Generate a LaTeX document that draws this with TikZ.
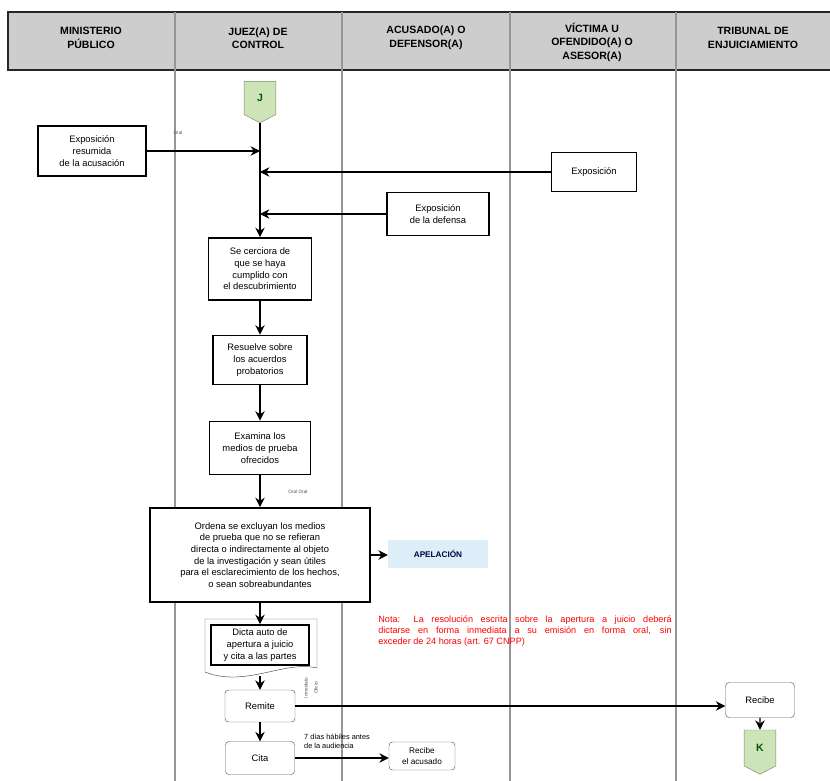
\documentclass[tikz,border=0pt]{standalone}
\usepackage{fontspec}
\setmainfont{Liberation Sans}
\usetikzlibrary{arrows.meta,shapes.symbols}
\definecolor{lanegray}{RGB}{150,150,150}
\definecolor{hdrgray}{RGB}{205,205,205}
\definecolor{connfill}{RGB}{205,228,185}
\definecolor{connline}{RGB}{120,140,110}
\definecolor{apfill}{RGB}{222,238,248}
\begin{document}
\begin{tikzpicture}[x=0.03cm, y=-0.03cm,
    every node/.style={font=\fontsize{8}{10}\selectfont, align=center},
    proc/.style={draw, line width=1.6pt, fill=white, inner sep=1pt},
    soft/.style={draw=gray!70!black, rounded corners=3pt, fill=white, inner sep=1pt},
    offpage/.style={shape=signal, signal to=south, signal from=nowhere, signal pointer angle=125,
        draw=connline, fill=connfill, minimum width=0.95cm, minimum height=1.1cm,
        font=\bfseries\small, text=green!35!black},
    flow/.style={-{Stealth[length=8pt, width=8pt]}, line width=1pt},
    tiny/.style={font=\fontsize{4}{5}\selectfont, text=gray!60!black}]
    \useasboundingbox (0,0) rectangle (830,781);
    \draw[fill=hdrgray, draw=gray!30!black, line width=1.4pt] (8,12) rectangle (834,70);
    \foreach \lx in {175,342,510,676} {
        \draw[lanegray, line width=1.3pt] (\lx,12) -- (\lx,781);
    }
    \node[font=\bfseries\fontsize{9}{11.5}\selectfont] at (91,38) {MINISTERIO\\PÚBLICO};
    \node[font=\bfseries\fontsize{9}{11.5}\selectfont] at (258,38) {JUEZ(A) DE\\CONTROL};
    \node[font=\bfseries\fontsize{9}{11.5}\selectfont] at (426,38) {ACUSADO(A) O\\DEFENSOR(A)};
    \node[font=\bfseries\fontsize{9}{11.5}\selectfont] at (592,42) {VÍCTIMA U\\OFENDIDO(A) O\\ASESOR(A)};
    \node[font=\bfseries\fontsize{9}{11.5}\selectfont] at (753,38) {TRIBUNAL DE\\ENJUICIAMIENTO};

    \node[offpage] (J) at (260,98) {J};
    \node[proc, minimum width=3.24cm, minimum height=1.5cm] (resumida) at (92,151) {Exposición\\resumida\\de la acusación};
    \node[proc, minimum width=2.55cm, minimum height=1.17cm] (victima) at (594,172) {Exposición};
    \node[proc, minimum width=3.06cm, minimum height=1.29cm] (defensa) at (438,214) {Exposición\\de la defensa};
    \node[proc, minimum width=3.09cm, minimum height=1.86cm] (cerciora) at (260,269) {Se cerciora de\\que se haya\\cumplido con\\el descubrimiento};
    \node[proc, minimum width=2.82cm, minimum height=1.47cm] (resuelve) at (260,360) {Resuelve sobre\\los acuerdos\\probatorios};
    \node[proc, minimum width=3.03cm, minimum height=1.59cm] (examina) at (260,448) {Examina los\\medios de prueba\\ofrecidos};
    \node[proc, minimum width=6.6cm, minimum height=2.82cm] (ordena) at (260,555) {Ordena se excluyan los medios\\de prueba que no se refieran\\directa o indirectamente al objeto\\de la investigación y sean útiles\\para el esclarecimiento de los hechos,\\o sean sobreabundantes};
    \node[fill=apfill, minimum width=3.0cm, minimum height=0.84cm, font=\bfseries\fontsize{7}{9}\selectfont, text=blue!25!black] (apelacion) at (438,554) {APELACIÓN};
    \node[text=red, text width=8.8cm, align=justify, font=\fontsize{7.8}{9.6}\selectfont] (nota) at (525,631) {Nota: La resolución escrita sobre la apertura a juicio deberá\linebreak dictarse en forma inmediata a su emisión en forma oral, sin\linebreak exceder de 24 horas (art. 67 CNPP)};

    \draw[gray!60!black, fill=white] (205,672) -- (205,619) -- (317,619) -- (317,668) .. controls (285,660) and (245,688) .. (205,672);
    \node[proc, minimum width=2.94cm, minimum height=1.2cm] (dicta) at (260,645) {Dicta auto de\\apertura a juicio\\y cita a las partes};
    \coordinate (dictabot) at (260,676);
    \node[soft, minimum width=2.1cm, minimum height=0.96cm] (remite) at (260,706) {Remite};
    \node[soft, minimum width=2.07cm, minimum height=0.99cm] (cita) at (260,758) {Cita};
    \node[soft, minimum width=2.07cm, minimum height=1.05cm] (recibe) at (760,700) {Recibe};
    \node[soft, minimum width=1.98cm, minimum height=0.84cm, font=\fontsize{7}{9}\selectfont] (acusado) at (422,756) {Recibe\\el acusado};
    \node[offpage, minimum height=1.2cm] (K) at (760,748) {K};

    \draw[flow] (J.south) -- (cerciora.north);
    \draw[flow] (resumida.east) -- (resumida.east -| J);
    \draw[flow] (victima.west) -- (victima.west -| J);
    \draw[flow] (defensa.west) -- (defensa.west -| J);
    \draw[flow] (cerciora) -- (resuelve);
    \draw[flow] (resuelve) -- (examina);
    \draw[flow] (examina) -- (ordena);
    \draw[flow] (ordena.east) -- (ordena.east -| apelacion.west);
    \draw[flow] (ordena) -- (dicta);
    \draw[flow] (dictabot) -- (remite);
    \draw[flow] (remite) -- (cita);
    \draw[flow] (remite.east) -- (remite.east -| recibe.west);
    \draw[flow] (recibe) -- (K);
    \draw[flow] (cita.east) -- (cita.east -| acusado.west);

    \node[tiny] at (178,133) {Oral};
    \node[tiny] at (298,492) {Oral Oral};
    \node[tiny, rotate=90] at (306,688) {Inmediato};
    \node[tiny, rotate=90] at (316,688) {Oficio};
    \node[align=left, font=\fontsize{6.3}{8}\selectfont] at (337,741) {7 días hábiles antes\\de la audiencia};
\end{tikzpicture}
\end{document}
